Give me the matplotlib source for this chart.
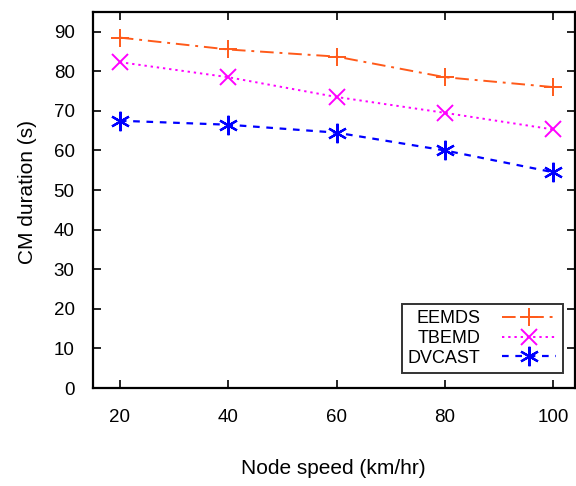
import matplotlib.pyplot as plt

plt.rcParams['font.family'] = ['Liberation Sans', 'DejaVu Sans']

speed = [20, 40, 60, 80, 100]
eemds = [88.5, 85.5, 83.7, 78.5, 76.0]
tbemd = [82.3, 78.5, 73.5, 69.5, 65.3]
dvcast = [67.5, 66.5, 64.5, 60.0, 54.5]

fig = plt.figure(figsize=(5.76, 4.86), dpi=100)
ax = fig.add_axes([0.161, 0.2016, 0.837, 0.774])

ax.plot(speed, eemds, color='#ff5a1a', lw=1.4, dashes=(7, 3, 1.5, 3),
        marker='+', ms=13, mew=1.4, label='EEMDS')
ax.plot(speed, tbemd, color='#ff00ff', lw=1.4, dashes=(1.2, 2),
        marker='x', ms=11, mew=1.4, label='TBEMD')
ax.plot(speed, dvcast, color='#0000ff', lw=1.6, dashes=(3, 3),
        marker=(6, 2, 0), ms=14, mew=1.6, label='DVCAST')

ax.set_xlim(15, 104)
ax.set_ylim(0, 95)
ax.set_xticks(speed)
ax.set_yticks(range(0, 91, 10))
ax.tick_params(direction='in', top=True, right=True, length=6, width=1.2,
               labelsize=13.5)
ax.tick_params(axis='y', pad=13)
ax.tick_params(axis='x', pad=15)
for s in ax.spines.values():
    s.set_linewidth(1.6)

ax.set_xlabel('Node speed (km/hr)', fontsize=15, labelpad=24)
ax.set_ylabel('CM duration (s)', fontsize=15)
ax.yaxis.set_label_coords(-0.115, 0.52)

leg = ax.legend(loc='lower right', bbox_to_anchor=(0.975, 0.04), markerfirst=False,
                fontsize=13, frameon=True, fancybox=False, handlelength=3.0,
                borderpad=0.35, labelspacing=0.15, handletextpad=1.2,
                borderaxespad=0)
leg.get_frame().set_edgecolor('black')
leg.get_frame().set_linewidth(1.4)
for col in leg._legend_handle_box.get_children():
    col.align = 'right'

fig.savefig('out.png', dpi=100)
